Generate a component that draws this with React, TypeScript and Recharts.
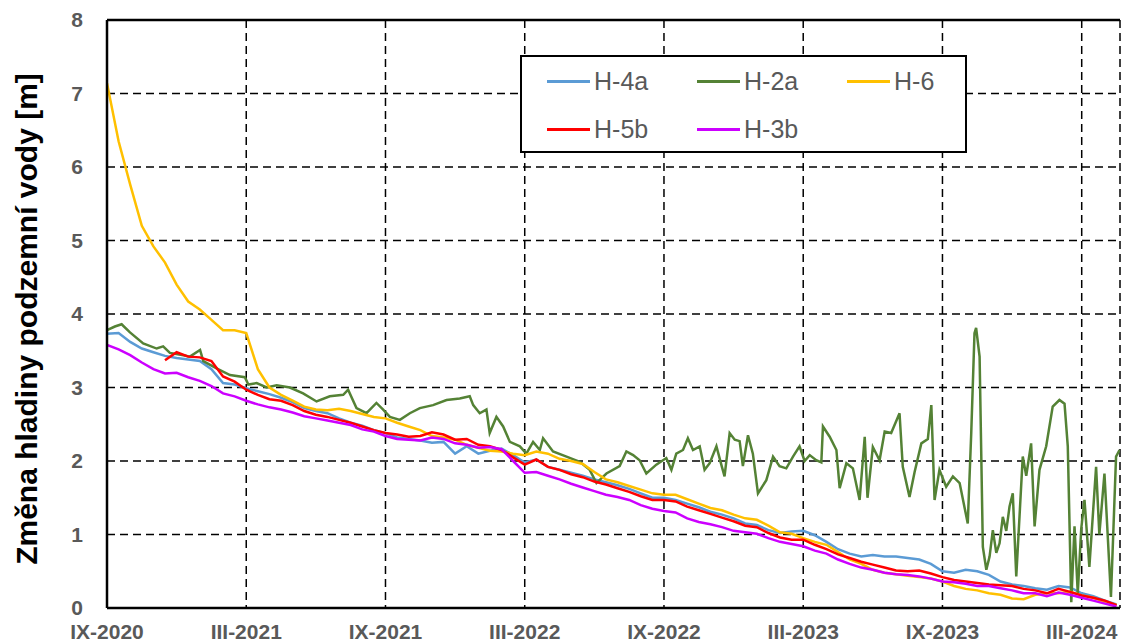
import React from "react";
import { LineChart, Line, XAxis, YAxis, CartesianGrid, ReferenceLine, Legend } from "recharts";

// x axis is in months since IX-2020
const tickMonths = [0, 6, 12, 18, 24, 30, 36, 42];
const tickLabels = ["IX-2020", "III-2021", "IX-2021", "III-2022", "IX-2022", "III-2023", "IX-2023", "III-2024"];
const yTicks = [0, 1, 2, 3, 4, 5, 6, 7, 8];

const seriesNames = ["H-4a", "H-2a", "H-6", "H-5b", "H-3b"];
const seriesColors = ["#5B9BD5", "#548235", "#FFC000", "#FF0000", "#CC00FF"];

// half-month sampling for the smoother wells
const h4a = [
  3.73, 3.74, 3.62, 3.53, 3.48, 3.43, 3.4, 3.38, 3.36, 3.25,
  3.06, 3.04, 2.99, 2.95, 2.91, 2.86, 2.8, 2.72, 2.68, 2.65,
  2.58, 2.52, 2.48, 2.42, 2.38, 2.32, 2.3, 2.28, 2.25, 2.26,
  2.1, 2.2, 2.1, 2.14, 2.17, 2.08, 1.98, 2.02, 1.92, 1.88,
  1.84, 1.8, 1.75, 1.71, 1.67, 1.62, 1.56, 1.5, 1.5, 1.47,
  1.42, 1.37, 1.31, 1.27, 1.22, 1.15, 1.13, 1.06, 1.02, 1.04,
  1.05, 0.99, 0.9, 0.8, 0.74, 0.7, 0.72, 0.7, 0.7, 0.68,
  0.66, 0.6, 0.5, 0.48, 0.52, 0.5, 0.45, 0.36, 0.32, 0.3,
  0.27, 0.25, 0.3, 0.28, 0.2, 0.16, 0.1, 0.05,
];
const h6 = [
  7.14, 6.35, 5.76, 5.2, 4.92, 4.7, 4.4, 4.17, 4.06, 3.92,
  3.78, 3.78, 3.74, 3.25, 3.0, 2.9, 2.82, 2.74, 2.7, 2.69,
  2.71, 2.68, 2.64, 2.6, 2.58, 2.52, 2.47, 2.42, 2.34, 2.32,
  2.29, 2.22, 2.18, 2.14, 2.13, 2.1, 2.08, 2.13, 2.1, 2.03,
  2.0, 1.96, 1.85, 1.75, 1.71, 1.66, 1.61, 1.56, 1.54, 1.54,
  1.48, 1.42, 1.36, 1.33, 1.27, 1.22, 1.2, 1.12, 1.03, 1.01,
  0.95, 0.9, 0.86, 0.76, 0.66, 0.6, 0.52, 0.48, 0.46, 0.44,
  0.42, 0.4, 0.36, 0.3, 0.26, 0.24, 0.2, 0.18, 0.13, 0.12,
  0.18, 0.2, 0.2, 0.22, 0.17, 0.14, 0.08, 0.04,
];
const h5b = [
  null, null, null, null, null, 3.37, 3.48, 3.42, 3.41, 3.36,
  3.15, 3.08, 2.97, 2.9, 2.84, 2.82, 2.76, 2.68, 2.63, 2.6,
  2.56, 2.52, 2.47, 2.42, 2.38, 2.36, 2.33, 2.34, 2.39, 2.36,
  2.29, 2.3, 2.22, 2.2, 2.15, 2.05, 1.95, 2.02, 1.92, 1.88,
  1.82, 1.78, 1.72, 1.68, 1.63, 1.58, 1.52, 1.47, 1.47, 1.45,
  1.38, 1.33, 1.28, 1.23, 1.18, 1.12, 1.1, 1.02, 0.96, 0.93,
  0.93, 0.86, 0.8, 0.73, 0.68, 0.63, 0.59, 0.55, 0.51, 0.5,
  0.51, 0.47, 0.42, 0.38, 0.36, 0.34, 0.32, 0.31, 0.3, 0.26,
  0.24, 0.2, 0.26, 0.22, 0.17, 0.14, 0.1, 0.04,
];
const h3b = [
  3.58, 3.52, 3.44, 3.34, 3.25, 3.19, 3.2, 3.14, 3.09, 3.02,
  2.92, 2.88, 2.82, 2.77, 2.73, 2.7, 2.66, 2.61, 2.58, 2.55,
  2.52, 2.49, 2.43, 2.4, 2.34, 2.3, 2.29, 2.28, 2.32, 2.3,
  2.24, 2.22, 2.18, 2.19, 2.16, 2.0, 1.84, 1.85, 1.8, 1.75,
  1.69, 1.64, 1.59, 1.54, 1.51, 1.47, 1.4, 1.35, 1.32, 1.3,
  1.22, 1.17, 1.14, 1.1, 1.05, 1.03, 1.01, 0.95, 0.9, 0.87,
  0.84, 0.78, 0.74, 0.66, 0.6, 0.55, 0.52, 0.48, 0.46, 0.45,
  0.43, 0.4, 0.36, 0.35, 0.33, 0.3, 0.3, 0.27, 0.24, 0.2,
  0.2, 0.16, 0.21, 0.18, 0.14, 0.1, 0.06, 0.02,
];

// H-2a is much noisier, so it gets its own irregular sampling
const h2aMonths = [
  0, 0.34, 0.63, 0.99, 1.56, 2.14, 2.42, 2.71, 3.29, 3.57,
  4.01, 4.15, 4.72, 5.3, 5.94, 6.09, 6.45, 6.88, 7.31, 7.88,
  8.45, 9.03, 9.6, 10.18, 10.39, 10.75, 11.18, 11.61, 11.9, 12.19,
  12.62, 13.05, 13.48, 14.05, 14.63, 15.2, 15.63, 15.78, 16.06, 16.35,
  16.49, 16.78, 17.07, 17.36, 17.79, 18.07, 18.36, 18.65, 18.79, 19.22,
  19.8, 20.37, 20.8, 21.09, 21.52, 22.09, 22.38, 22.67, 22.95, 23.24,
  23.67, 24.1, 24.32, 24.53, 24.82, 25.03, 25.25, 25.54, 25.75, 25.97,
  26.26, 26.47, 26.61, 26.83, 27.05, 27.26, 27.4, 27.62, 27.83, 28.05,
  28.41, 28.7, 28.98, 29.27, 29.56, 29.84, 30.06, 30.28, 30.56, 30.78,
  30.85, 31.14, 31.43, 31.57, 31.86, 32.14, 32.43, 32.65, 32.77, 33.0,
  33.29, 33.51, 33.79, 34.15, 34.29, 34.58, 34.8, 35.09, 35.37, 35.52,
  35.66, 35.87, 36.16, 36.45, 36.74, 37.09, 37.24, 37.38, 37.45, 37.6,
  37.74, 37.89, 38.03, 38.17, 38.32, 38.46, 38.6, 38.75, 38.89, 39.03,
  39.18, 39.46, 39.61, 39.82, 39.97, 40.18, 40.47, 40.75, 41.04, 41.26,
  41.4, 41.55, 41.69, 41.83, 41.98, 42.12, 42.33, 42.62, 42.76, 42.98,
  43.26, 43.48, 43.63,
];
const h2aValues = [
  3.78, 3.83, 3.86, 3.75, 3.6, 3.53, 3.56, 3.47, 3.44, 3.42,
  3.51, 3.36, 3.26, 3.17, 3.14, 3.04, 3.06, 3.0, 3.03, 3.0,
  2.92, 2.81, 2.88, 2.9, 2.97, 2.72, 2.65, 2.79, 2.7, 2.6,
  2.56, 2.65, 2.72, 2.76, 2.83, 2.85, 2.88, 2.76, 2.65, 2.7,
  2.38, 2.6, 2.47, 2.26, 2.2, 2.1, 2.26, 2.15, 2.31, 2.13,
  2.06, 1.99, 1.88, 1.7, 1.83, 1.93, 2.13, 2.08, 2.01, 1.83,
  1.95, 2.04, 1.88, 2.1, 2.15, 2.31, 2.15, 2.2, 1.88, 1.97,
  2.2, 1.95, 1.79, 2.38, 2.29, 2.27, 1.93, 2.35, 2.1, 1.56,
  1.74, 2.06, 1.93, 1.9, 2.06, 2.2, 2.0, 2.08, 2.01, 1.98,
  2.47, 2.33, 2.15, 1.63, 1.97, 1.9, 1.47, 2.33, 1.5, 2.19,
  2.01, 2.4, 2.38, 2.65, 1.92, 1.51, 1.85, 2.24, 2.3, 2.76,
  1.47, 1.88, 1.65, 1.79, 1.7, 1.15, 2.38, 3.74, 3.81, 3.42,
  0.83, 0.52, 0.7, 1.06, 0.75, 0.88, 1.24, 1.05, 1.38, 1.56,
  0.43, 2.06, 1.8, 2.24, 1.11, 1.88, 2.2, 2.74, 2.83, 2.78,
  2.2, 0.08, 1.11, 0.2, 1.08, 1.47, 0.56, 1.92, 1.0, 1.83,
  0.15, 2.06, 2.15,
];

const halfMonths = h4a.map((_, i) => i / 2);
const mainData = halfMonths.map((m, i) => ({ m, h4a: h4a[i], h6: h6[i], h5b: h5b[i], h3b: h3b[i] }));
const h2aData = h2aMonths.map((m, i) => ({ m, h2a: h2aValues[i] }));

const FONT = "'Liberation Sans', Arial, sans-serif";
const tickStyle = { fill: "#595959", fontSize: 21, fontWeight: 700, fontFamily: FONT };

function YTitle() {
  return (
    <text
      x={26}
      y={319}
      transform="rotate(-90 26 319)"
      textAnchor="middle"
      dominantBaseline="central"
      style={{ fontFamily: FONT, fontSize: 30, fontWeight: 700, fill: "#000" }}
    >
      Změna hladiny podzemní vody [m]
    </text>
  );
}

function LegendBox() {
  return (
    <div
      style={{
        position: "relative",
        width: 447,
        height: 98,
        boxSizing: "border-box",
        border: "2px solid #000",
        background: "#fff",
        fontFamily: FONT,
        fontSize: 25,
        color: "#595959",
      }}
    >
      {seriesNames.map((name, i) => {
        const col = i % 3;
        const row = Math.floor(i / 3);
        return (
          <div
            key={name}
            style={{
              position: "absolute",
              left: 25 + col * 150,
              top: 24 + row * 48 - 15,
              height: 30,
              display: "flex",
              alignItems: "center",
              whiteSpace: "nowrap",
            }}
          >
            <span style={{ display: "inline-block", width: 43, height: 3, background: seriesColors[i], marginRight: 4 }} />
            <span>{name}</span>
          </div>
        );
      })}
    </div>
  );
}

export default function App() {
  return (
    <div style={{ position: "absolute", left: 0, top: 0, width: 1122, height: 643, background: "#fff" }}>
      <LineChart width={1122} height={643} margin={{ top: 20, right: 2, bottom: 0, left: 0 }}>
        <CartesianGrid stroke="#000" strokeWidth={1.5} strokeDasharray="8 5" />
        <XAxis
          type="number"
          dataKey="m"
          domain={[0, 43.65]}
          ticks={tickMonths}
          tickFormatter={(v: number) => tickLabels[tickMonths.indexOf(v)]}
          allowDataOverflow
          height={35}
          tickLine={false}
          tickMargin={10}
          axisLine={{ stroke: "#000", strokeWidth: 2.5 }}
          tick={tickStyle}
          interval={0}
        />
        <YAxis
          type="number"
          domain={[0, 8]}
          ticks={yTicks}
          width={107}
          tickLine={false}
          tickMargin={18}
          axisLine={{ stroke: "#000", strokeWidth: 2.5 }}
          tick={tickStyle}
          interval={0}
          label={<YTitle />}
        />
        <ReferenceLine y={8} stroke="#000" strokeWidth={2.5} />
        <Legend
          layout="vertical"
          align="center"
          verticalAlign="middle"
          content={<LegendBox />}
          wrapperStyle={{ left: 520, top: 55, width: 447, height: 98 }}
        />
        <Line data={mainData} dataKey="h4a" name="H-4a" type="linear" stroke={seriesColors[0]} strokeWidth={2.5} dot={false} isAnimationActive={false} />
        <Line data={h2aData} dataKey="h2a" name="H-2a" type="linear" stroke={seriesColors[1]} strokeWidth={2.5} dot={false} isAnimationActive={false} />
        <Line data={mainData} dataKey="h6" name="H-6" type="linear" stroke={seriesColors[2]} strokeWidth={2.5} dot={false} isAnimationActive={false} />
        <Line data={mainData} dataKey="h5b" name="H-5b" type="linear" stroke={seriesColors[3]} strokeWidth={2.5} dot={false} isAnimationActive={false} />
        <Line data={mainData} dataKey="h3b" name="H-3b" type="linear" stroke={seriesColors[4]} strokeWidth={2.5} dot={false} isAnimationActive={false} />
      </LineChart>
    </div>
  );
}
